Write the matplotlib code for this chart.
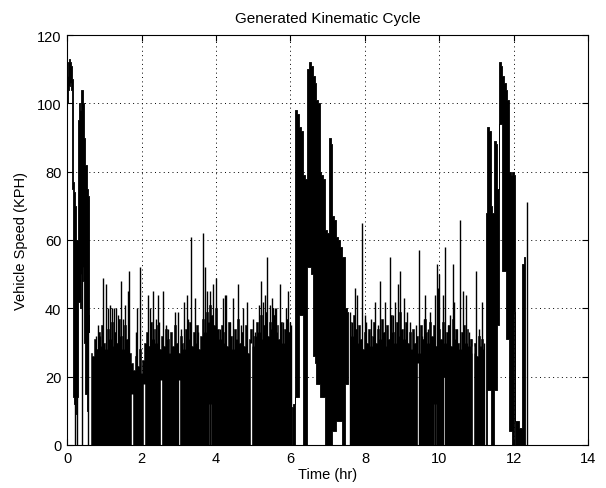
import matplotlib
matplotlib.use("Agg")
import matplotlib.pyplot as plt
import numpy as np

# ---------------- data ----------------
# High-speed segments: per time column, min and max speed covered by the trace
seg1_t  = [0.00, 0.03, 0.06, 0.09, 0.12, 0.15, 0.18, 0.21, 0.24, 0.27, 0.30, 0.33, 0.36,
           0.39, 0.42, 0.45, 0.48, 0.51, 0.54, 0.57, 0.60]
seg1_lo = [100, 104, 105, 106, 104, 75, 14, 12, 9, 14, 42, 42, 40, 50, 52, 48, 30, 15, 10, 38, 33]
seg1_hi = [108, 112, 113, 112, 111, 107, 77, 74, 70, 60, 95, 100, 98, 104, 104, 100, 90, 82, 75, 73, 72]

seg2_t  = [6.03, 6.08, 6.15, 6.20, 6.26, 6.31, 6.36, 6.41, 6.47, 6.52, 6.57, 6.62, 6.67, 6.71,
           6.76, 6.80, 6.85, 6.90, 6.95, 7.00, 7.05, 7.10, 7.15, 7.20, 7.25, 7.30, 7.35, 7.40,
           7.45, 7.50, 7.55]
seg2_lo = [0, 0, 14, 14, 38, 38, 0, 0, 52, 52, 50, 26, 24, 18, 18, 14, 14, 14, 0, 0, 0, 0,
           4, 4, 7, 7, 7, 0, 0, 18, 18]
seg2_hi = [11, 12, 98, 97, 93, 92, 79, 78, 110, 112, 111, 108, 106, 101, 100, 80, 79, 78, 63,
           62, 90, 88, 67, 66, 61, 60, 58, 55, 55, 40, 39]

seg3_t  = [11.25, 11.30, 11.35, 11.40, 11.44, 11.49, 11.53, 11.58, 11.62, 11.66, 11.71, 11.75,
           11.80, 11.84, 11.89, 11.93, 11.98, 12.02, 12.06, 12.11, 12.16, 12.20, 12.25, 12.29]
seg3_lo = [0, 16, 16, 0, 0, 16, 16, 35, 94, 94, 51, 51, 31, 31, 4, 4, 0, 39, 0, 0, 0, 0, 0, 0]
seg3_hi = [68, 93, 92, 70, 68, 89, 88, 75, 112, 111, 108, 106, 104, 101, 80, 79, 80, 79, 7, 7,
           5, 5, 53, 55]

# Thin excursions to zero inside the high-speed segments
drop_t = [0.22, 0.26, 0.40, 0.57, 12.34]
drop_v = [40, 45, 60, 72, 71]

# Dense urban driving: solid level of the trace, one value per 0.05 h
base1_start, base2_start, base_step = 0.65, 7.60, 0.05
base1_v = [27, 26, 31, 28, 33, 29, 35, 30, 28, 34,
           31, 36, 29, 33, 30, 37, 32, 28, 35, 31,
           33, 27, 24, 22, 26, 23, 28, 21, 25, 30,
           33, 29, 36, 31, 34, 30, 35, 28, 32, 29,
           34, 31, 27, 33, 29, 35, 30, 27, 32, 30,
           28, 34, 31, 36, 29, 33, 30, 35, 28, 32,
           37, 33, 39, 36, 41, 38, 35, 40, 34, 31,
           35, 30, 33, 29, 36, 32, 28, 34, 31, 37,
           30, 33, 29, 35, 27, 31, 34, 29, 32, 36,
           33, 38, 31, 35, 39, 32, 36, 34, 38, 33,
           35, 31, 36, 30, 34, 37, 33, 30]
base2_v = [36, 32, 38, 34, 30, 35, 31, 28, 33, 30,
           34, 29, 32, 36, 30, 34, 31, 37, 33, 29,
           35, 31, 38, 33, 30, 36, 32, 39, 34, 31,
           36, 30, 33, 28, 34, 30, 32, 27, 35, 31,
           37, 33, 30, 36, 32, 35, 29, 38, 34, 31,
           36, 30, 33, 35, 29, 37, 31, 34, 30, 28,
           33, 35, 30, 34, 29, 31, 27, 30, 26, 32,
           29, 31, 28]

# Individual speed peaks in the dense sections
spike_t = [0.78, 0.84, 0.88, 0.97, 1.04, 1.11, 1.15, 1.22, 1.27, 1.31, 1.38, 1.44, 1.49, 1.55,
           1.63, 1.67, 1.84, 1.89, 1.96, 2.18, 2.24, 2.31, 2.38, 2.43, 2.47, 2.58, 2.65, 2.72,
           2.90, 2.98, 3.06, 3.15, 3.21, 3.25, 3.34, 3.43, 3.52, 3.64, 3.70, 3.75, 3.83, 3.92,
           4.01, 4.10, 4.19, 4.25, 4.28, 4.37, 4.46, 4.59, 4.66, 4.73, 4.84, 4.99, 5.06, 5.16,
           5.20, 5.26, 5.31, 5.38, 5.44, 5.49, 5.53, 5.58, 5.62, 5.73, 5.80, 5.87, 5.92, 5.98,
           6.02,
           7.61, 7.66, 7.72, 7.79, 7.92, 7.99, 8.03, 8.10, 8.17, 8.28, 8.35, 8.41, 8.54, 8.60,
           8.66, 8.75, 8.81, 8.88, 8.95, 9.06, 9.13, 9.20, 9.29, 9.38, 9.46, 9.52, 9.58, 9.62,
           9.70, 9.75, 9.88, 9.93, 9.95, 10.00, 10.09, 10.16, 10.22, 10.29, 10.36, 10.40, 10.47,
           10.54, 10.64, 10.70, 10.78, 10.85, 10.98, 11.05, 11.14, 11.20]
spike_v = [32, 35, 32, 49, 47, 40, 41, 40, 40, 40, 38, 48, 37, 41,
           45, 51, 33, 40, 52, 44, 40, 45, 37, 44, 36, 45, 35, 34,
           39, 39, 34, 42, 44, 37, 61, 43, 33, 62, 52, 45, 45, 47,
           49, 34, 43, 44, 44, 36, 43, 47, 35, 40, 42, 37, 33, 41,
           48, 42, 44, 55, 41, 43, 40, 40, 40, 47, 36, 40, 45, 36,
           35,
           39, 36, 46, 44, 65, 38, 36, 33, 37, 42, 35, 48, 42, 34,
           55, 38, 42, 47, 51, 43, 39, 36, 33, 35, 57, 32, 37, 44,
           34, 39, 44, 53, 46, 50, 44, 58, 35, 38, 53, 42, 34,
           66, 45, 44, 33, 31, 51, 34, 42, 30]

# Short pauses (speed stays above zero) that leave white gaps in the dense sections
gap_t = [1.74, 2.07, 2.52, 3.00, 3.83, 4.93, 9.41, 9.87, 10.11, 10.91]
gap_v = [15, 18, 19, 19, 12, 30, 24, 12, 20, 29]

x_ticks = [0, 2, 4, 6, 8, 10, 12, 14]
y_ticks = [0, 20, 40, 60, 80, 100, 120]

# ---------------- drawing ----------------
plt.rcParams['font.family'] = ['Liberation Sans', 'DejaVu Sans']
fig = plt.figure(figsize=(6.06, 4.89), dpi=100)
ax = fig.add_axes([67 / 606, 1 - 446 / 489, (588.5 - 67) / 606, (446 - 36) / 489])

for t, lo, hi in [(seg1_t, seg1_lo, seg1_hi), (seg2_t, seg2_lo, seg2_hi), (seg3_t, seg3_lo, seg3_hi)]:
    ax.fill_between(t, lo, hi, step='mid', color='black', lw=0.6, edgecolor='black')

for start, v in [(base1_start, base1_v), (base2_start, base2_v)]:
    t = start + base_step * np.arange(len(v))
    ax.fill_between(t, 0, v, step='mid', color='black', lw=0.4, edgecolor='black')

ax.vlines(gap_t, 0, gap_v, colors='white', lw=1.0)
ax.vlines(spike_t, 0, spike_v, colors='black', lw=1.0)
ax.vlines(drop_t, 0, drop_v, colors='black', lw=1.0)

ax.set_xlim(0, 14)
ax.set_ylim(0, 120)
ax.set_xticks(x_ticks)
ax.set_yticks(y_ticks)
ax.tick_params(direction='in', length=4, width=0.8, top=True, right=True, labelsize=10.5, pad=4)
ax.grid(True, color='black', linestyle=(0, (1, 3.5)), lw=0.7)
ax.set_axisbelow(False)
for s in ax.spines.values():
    s.set_linewidth(0.8)

ax.set_title('Generated Kinematic Cycle', fontsize=11, pad=9)
ax.set_xlabel('Time (hr)', fontsize=10.5, labelpad=2)
ax.set_ylabel('Vehicle Speed (KPH)', fontsize=10.5, labelpad=6)

fig.savefig('out.png', dpi=100)
